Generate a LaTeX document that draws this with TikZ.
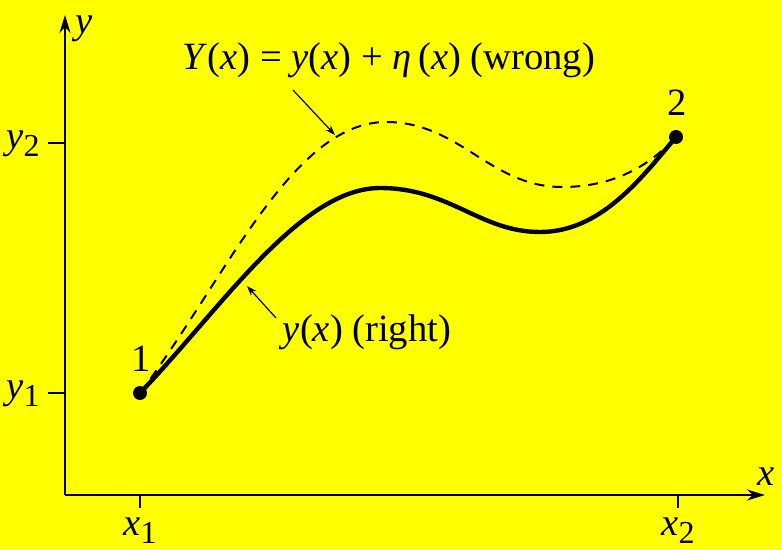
\documentclass[tikz,border=0pt]{standalone}
\usepackage{fontspec}
\setmainfont{Liberation Serif}
\usetikzlibrary{arrows.meta}
\usetikzlibrary{positioning}
\usetikzlibrary{calc}

\definecolor{bgyellow}{HTML}{FFFF00}
\newcommand{\iv}[1]{\textit{#1}}
\newcommand{\sbs}[1]{\raisebox{-0.45ex}{\fontsize{16}{16}\selectfont #1}}

\begin{document}
\begin{tikzpicture}[x=0.5pt, y=-0.5pt,
    every node/.style={font=\fontsize{19.3}{22}\selectfont, inner sep=0pt},
    dot/.style={circle, fill=black, minimum size=7pt},
    axisline/.style={line width=1pt, -{Stealth[length=9pt, width=5.5pt]}},
    tick/.style={line width=0.9pt},
    pointer/.style={line width=0.6pt, -{Stealth[length=5pt, width=3.5pt]}}]

        % Background
        \fill[bgyellow] (0,0) rectangle (782,550);
        \useasboundingbox (0,0) rectangle (782,550);

        % Axes
        \coordinate (o) at (65,495);
        \coordinate (ytop) at (65,15);
        \coordinate (xend) at (765,495);
        \draw[axisline] (o) -- (ytop);
        \draw[axisline] (o) -- (xend);
        \node[anchor=base] (ylab) at (84,34) {\iv{y}};
        \node[anchor=base] (xlab) at (766,486) {\iv{x}};

        % Ticks on the x axis
        \foreach \xx/\i in {140/1, 678/2} {
          \draw[tick] (\xx,495) -- (\xx,508);
          \node[anchor=base] (xt\i) at (\xx,536) {\iv{x}\sbs{\i}};
        }

        % Ticks on the y axis
        \foreach \yy/\i in {393/1, 143/2} {
          \draw[tick] (48,\yy) -- (65,\yy);
          \node[anchor=base east] (yt\i) at (40,\yy+6) {\iv{y}\sbs{\i}};
        }

        % End points
        \node[dot] (p1) at (140,393) {};
        \node[dot] (p2) at (676,137) {};
        \node[anchor=base] (n1) at (141,372) {1};
        \node[anchor=base] (n2) at (677,116) {2};

        % Turning points of both curves
        \coordinate (rtop) at (380,188);
        \coordinate (rlow) at (540,232);
        \coordinate (wtop) at (386,122);
        \coordinate (wlow) at (562,187);

        % Wrong path (dashed)
        \draw[line width=1pt, dash pattern=on 5pt off 4pt]
          (p1.center) .. controls (225,280) and (292,122) .. (wtop)
          .. controls (460,122) and (490,187) .. (wlow)
          .. controls (615,187) and (650,165) .. (p2.center);

        % Right path (solid)
        \draw[line width=2.2pt]
          (p1.center) .. controls (220,310) and (300,188) .. (rtop)
          .. controls (450,188) and (480,232) .. (rlow)
          .. controls (600,232) and (640,180) .. (p2.center);

        % Labels with pointers
        \node[anchor=base] (wrong) at (389,70)
          {\iv{Y}(\iv{x}) = \iv{y}(\iv{x}) + \iv{η}\,(\iv{x}) (wrong)};
        \coordinate (wtail) at (293,90);
        \coordinate (wtip) at (335,135);
        \draw[pointer] (wtail) -- (wtip);

        \node[anchor=base] (right) at (367,342) {\iv{y}(\iv{x}) (right)};
        \coordinate (rtail) at (276,318);
        \coordinate (rtip) at (247,286);
        \draw[pointer] (rtail) -- (rtip);

      \end{tikzpicture}
\end{document}
